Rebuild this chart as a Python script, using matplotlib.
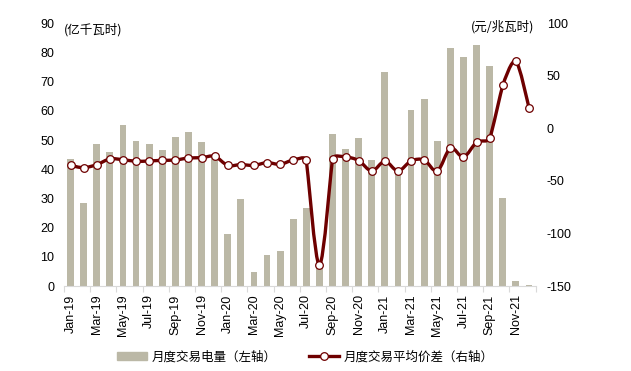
import numpy as np
import matplotlib
matplotlib.use("Agg")
import matplotlib.pyplot as plt
from matplotlib.path import Path
from matplotlib.patches import PathPatch, Patch
from matplotlib.lines import Line2D

plt.rcParams['font.family'] = ['Liberation Sans', 'Noto Sans CJK SC', 'DejaVu Sans']
plt.rcParams['axes.unicode_minus'] = False

# data
months = ["Jan-19", "Feb-19", "Mar-19", "Apr-19", "May-19", "Jun-19", "Jul-19", "Aug-19",
          "Sep-19", "Oct-19", "Nov-19", "Dec-19", "Jan-20", "Feb-20", "Mar-20", "Apr-20",
          "May-20", "Jun-20", "Jul-20", "Aug-20", "Sep-20", "Oct-20", "Nov-20", "Dec-20",
          "Jan-21", "Feb-21", "Mar-21", "Apr-21", "May-21", "Jun-21", "Jul-21", "Aug-21",
          "Sep-21", "Oct-21", "Nov-21", "Dec-21"]
volume = [43.4, 28.5, 48.7, 46.0, 55.1, 49.7, 48.5, 46.7, 51.0, 52.7, 49.3, 44.0,
          17.8, 29.7, 4.8, 10.6, 12.0, 22.9, 26.7, 6.5, 52.1, 46.8, 50.8, 43.2,
          73.4, 40.0, 60.3, 63.9, 49.7, 81.7, 78.3, 82.6, 75.3, 30.0, 1.7, 0.3]
spread = [-35.2, -37.4, -34.5, -29.1, -29.8, -31.3, -31.0, -30.4, -30.1, -28.2, -27.9, -26.6,
          -35.2, -34.5, -35.2, -32.6, -34.2, -30.1, -30.4, -130.3, -29.1, -27.2, -30.7, -40.5,
          -31.3, -40.5, -31.0, -30.1, -40.5, -18.9, -27.2, -13.3, -9.5, 40.9, 63.8, 19.7]

bar_color = '#BBB8A6'
line_color = '#6E0000'

fig = plt.figure(figsize=(6.31, 3.71), dpi=100)
ax = fig.add_axes([0.1014, 0.2291, 0.7473, 0.7081])
ax2 = ax.twinx()

x = np.arange(len(months))
ax.bar(x, volume, width=0.52, color=bar_color, zorder=1)
ax.set_xlim(-0.5, len(months) - 0.5)
ax.set_ylim(0, 90)
ax.set_yticks(np.arange(0, 91, 10))
ax2.set_ylim(-150, 100)
ax2.set_yticks(np.arange(-150, 101, 50))

# smoothed line, control points worked out in pixel-like units
sx, sy = 13.1, 1.05
P = np.column_stack([x * sx, np.array(spread) * sy])
n = len(P)
T = np.zeros_like(P)
C = np.zeros(n)
for i in range(n):
    d = P[min(i + 1, n - 1)] - P[max(i - 1, 0)]
    T[i] = d / np.hypot(*d)
    C[i] = min(np.hypot(*d) / 6, 0.4 * sx)
verts = [P[0]]
codes = [Path.MOVETO]
for i in range(n - 1):
    verts += [P[i] + T[i] * C[i], P[i + 1] - T[i + 1] * C[i + 1], P[i + 1]]
    codes += [Path.CURVE4] * 3
verts = np.array(verts) / [sx, sy]
ax2.add_patch(PathPatch(Path(verts, codes), fill=False, edgecolor=line_color,
                        lw=2.4, capstyle='round', joinstyle='round', zorder=3))
ax2.plot(x, spread, 'o', ms=5.5, mfc='white', mec=line_color, mew=0.9, zorder=4)

# axes styling
for a in (ax, ax2):
    for s in a.spines.values():
        s.set_visible(False)
ax.spines['bottom'].set_visible(True)
ax.spines['bottom'].set_color('#D9D9D9')
ax.tick_params(axis='y', length=0, pad=7, labelsize=9)
ax2.tick_params(axis='y', length=0, pad=8, labelsize=9)

ax.set_xticks(np.arange(-0.5, len(months), 2))
ax.set_xticklabels([])
ax.tick_params(axis='x', which='major', length=4, color='#D9D9D9')
ax.set_xticks(x[::2], minor=True)
ax.set_xticklabels(months[::2], minor=True, rotation=90, fontsize=9)
ax.tick_params(axis='x', which='minor', length=0, pad=6)

ax.text(0.0, 0.975, '(亿千瓦时)', transform=ax.transAxes, fontsize=9,
        family=['Noto Sans CJK SC', 'DejaVu Sans'], va='center', ha='left')
ax.text(0.998, 0.985, '(元/兆瓦时)', transform=ax.transAxes, fontsize=9,
        family=['Noto Sans CJK SC', 'DejaVu Sans'], va='center', ha='right')

handles = [Patch(color=bar_color),
           Line2D([0], [0], color=line_color, lw=2.4, marker='o', ms=5.5,
                  mfc='white', mec=line_color, mew=0.9)]
fig.legend(handles, ['月度交易电量（左轴）', '月度交易平均价差（右轴）'],
           loc='center', bbox_to_anchor=(0.484, 0.038), ncol=2, frameon=False,
           prop={'family': ['Noto Sans CJK SC', 'DejaVu Sans'], 'size': 9},
           handlelength=2.4, columnspacing=2.6, handletextpad=0.35)

fig.savefig('out.png', dpi=100)
